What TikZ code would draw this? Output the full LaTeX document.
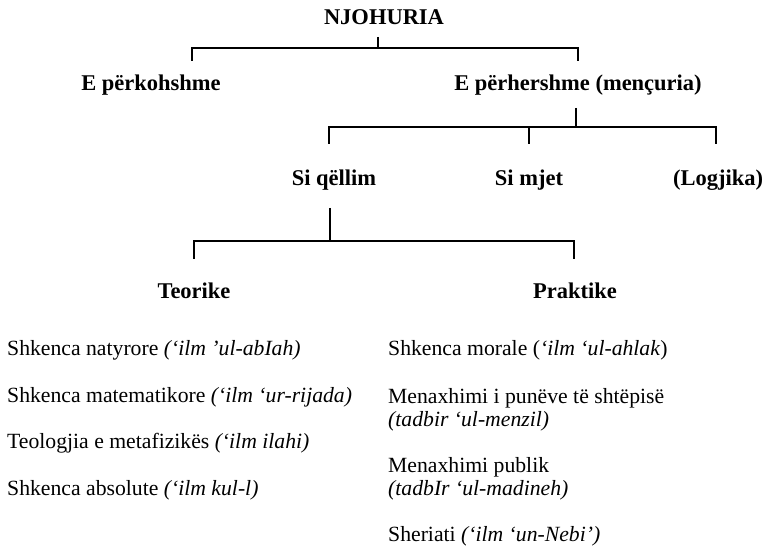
\documentclass[tikz,border=0pt]{standalone}
\usepackage{fontspec}
\setmainfont{Liberation Serif}
\usetikzlibrary{positioning}

\begin{document}
\begin{tikzpicture}[x=1pt,y=-1pt,
    head/.style={font=\fontsize{22.5}{26}\selectfont\bfseries,anchor=base,inner sep=0pt},
    item/.style={font=\fontsize{21.7}{23}\selectfont,anchor=base west,align=left,inner sep=0pt},
    thinrule/.style={line width=1.3pt},
    thickrule/.style={line width=2.4pt}]
    \useasboundingbox (0,0) rectangle (771,553);

    % top level
    \node[head] (njohuria) at (384,25) {NJOHURIA};
    \node[head] (perk) at (151,91) {E përkohshme};
    \node[head] (perh) at (578,91) {E përhershme (mençuria)};
    \coordinate (k1top) at (378,37);
    \coordinate (k1l) at (192,61);
    \coordinate (k1r) at (578,61);
    \draw[thickrule] (k1top) -- ++(0,11);
    \draw[thickrule] (k1l) -- ++(0,-13) -| (k1r);

    % second level
    \node[head] (qellim) at (334,186) {Si qëllim};
    \node[head] (mjet) at (529,186) {Si mjet};
    \node[head] (logjika) at (718,186) {(Logjika)};
    \coordinate (k2top) at (576,108);
    \coordinate (k2l) at (329,144);
    \coordinate (k2m) at (529,144);
    \coordinate (k2r) at (716,144);
    \draw[thinrule] (k2top) -- ++(0,19);
    \draw[thinrule] (k2l) -- ++(0,-17) -| (k2r);
    \draw[thinrule] (k2m) -- ++(0,-17);

    % third level
    \node[head] (teorike) at (194,299) {Teorike};
    \node[head] (praktike) at (575,299) {Praktike};
    \coordinate (k3top) at (330,208);
    \coordinate (k3l) at (194,259);
    \coordinate (k3r) at (574,259);
    \draw[thinrule] (k3top) -- ++(0,33);
    \draw[thinrule] (k3l) -- ++(0,-18) -| (k3r);

    % theoretical sciences
    \node[item] (natyrore) at (7,355) {Shkenca natyrore \textit{(‘ilm ’ul-abIah)}};
    \node[item] (matem) at (7,402) {Shkenca matematikore \textit{(‘ilm ‘ur-rijada)}};
    \node[item] (teolog) at (7,448) {Teologjia e metafizikës \textit{(‘ilm ilahi)}};
    \node[item] (absolute) at (7,495) {Shkenca absolute \textit{(‘ilm kul-l)}};

    % practical sciences (base = last line)
    \node[item] (morale) at (388,355) {Shkenca morale (\textit{‘ilm ‘ul-ahlak})};
    \node[item] (shtepi) at (388,426) {Menaxhimi i punëve të shtëpisë\\\textit{(tadbir ‘ul-menzil)}};
    \node[item] (publik) at (388,495) {Menaxhimi publik\\\textit{(tadbIr ‘ul-madineh)}};
    \node[item] (sheriati) at (388,541) {Sheriati \textit{(‘ilm ‘un-Nebi’)}};
\end{tikzpicture}
\end{document}
